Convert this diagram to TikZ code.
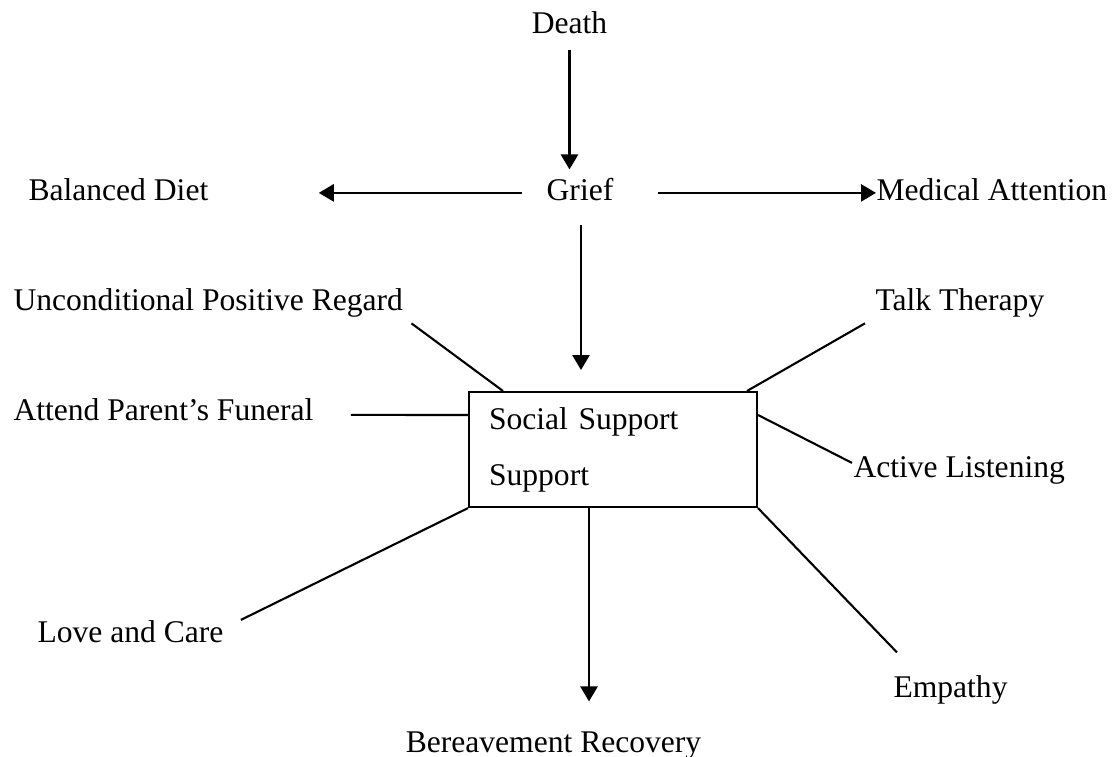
\documentclass[tikz,border=0pt]{standalone}
\usepackage{fontspec}
\setmainfont{Liberation Serif}
\usetikzlibrary{arrows.meta, calc}

\begin{document}
\begin{tikzpicture}[
    x=0.38pt, y=-0.38pt, % one unit per pixel, y downwards
    % Styles
    lbl/.style={ % Plain text labels
        inner sep=0pt,
        text height=8pt,
        text depth=2.6pt,
        font=\fontsize{12}{14}\selectfont
    },
    box/.style={ % Central box
        rectangle,
        draw,
        line width=0.8pt,
        inner xsep=7.6pt,
        text width=94.2pt,
        minimum height=43.7pt,
        align=left,
        font=\fontsize{12}{21.3}\selectfont
    },
    arrow/.style={
        -{Triangle[width=6.5pt, length=5.7pt]},
        line width=0.9pt
    },
    link/.style={ % Plain connectors
        line width=0.8pt
    }
]
    \useasboundingbox (0,0) rectangle (1113,757);

    % Main chain
    \node[lbl, anchor=base] (death) at (569.5,33) {Death};
    \node[lbl, anchor=base] (grief) at (580,200) {Grief};
    \node[lbl, anchor=base west] (diet) at (28,200) {Balanced Diet};
    \node[lbl, anchor=base west] (medic) at (876,200) {Medical Attention};
    \node[box, anchor=north west] (socsup) at (468,391) {Social Support\\Support};
    \node[lbl, anchor=base] (recovery) at (553.5,752) {Bereavement Recovery};

    % Labels round the box
    \node[lbl, anchor=base west] (regard) at (13,310) {Unconditional Positive Regard};
    \node[lbl, anchor=base west] (talk) at (875,310) {Talk Therapy};
    \node[lbl, anchor=base west] (funeral) at (13,420) {Attend Parent's Funeral};
    \node[lbl, anchor=base west] (listen) at (853,477) {Active Listening};
    \node[lbl, anchor=base west] (love) at (37,642) {Love and Care};
    \node[lbl, anchor=base west] (empathy) at (893,697) {Empathy};

    % Arrows
    \draw [arrow] ($(death.south)+(0,10)$) -- ($(death.south |- grief.north)+(0,-9)$);
    \draw [arrow] ($(grief.west)+(-24,0)$) -- ($(diet.east)+(110,0)$);
    \draw [arrow] ($(grief.east)+(44,0)$) -- (medic.west);
    \draw [arrow] ($(grief.south)+(1,18)$) -- ($(grief.south |- socsup.north)+(1,-21)$);
    \draw [arrow] ($(socsup.south)+(-24,0)$) -- ($(socsup.south |- recovery.north)+(-24,-29)$);

    % Connectors to the box
    \draw [link] ($(regard.south east)+(8,6)$) -- ($(socsup.north west)+(35,0)$);
    \draw [link] ($(talk.south west)+(-10,6)$) -- ($(socsup.north east)+(-11,0)$);
    \draw [link] ($(funeral.east)+(37,2)$) -- ($(socsup.north west)+(0,24)$);
    \draw [link] ($(socsup.north east)+(0,24)$) -- ($(listen.west)+(-1,-7)$);
    \draw [link] ($(love.east)+(17,-15)$) -- (socsup.south west);
    \draw [link] (socsup.south east) -- ($(empathy.north west)+(4,-23)$);
\end{tikzpicture}
\end{document}
